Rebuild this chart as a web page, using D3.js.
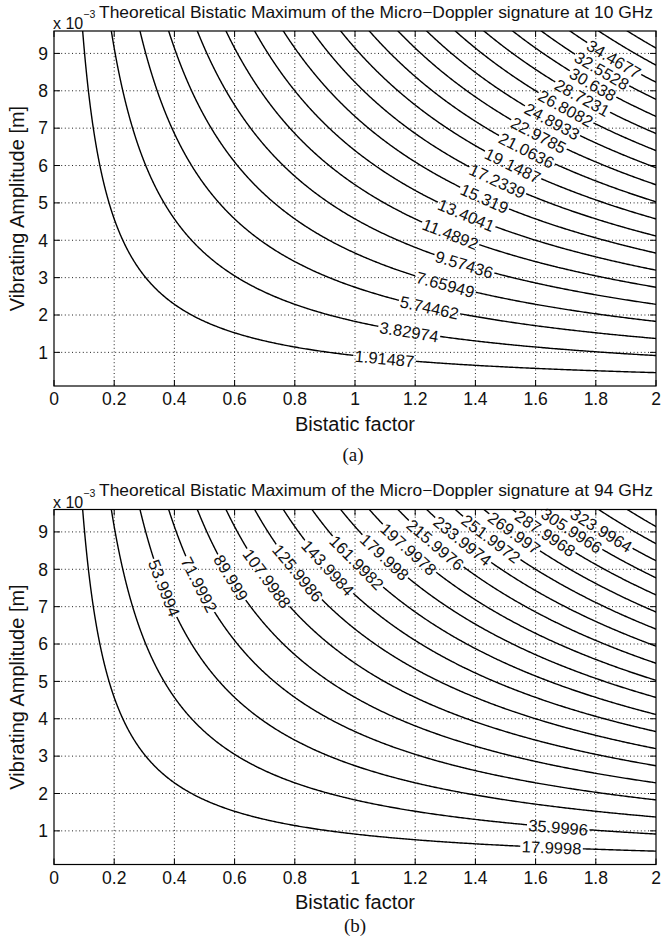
<!DOCTYPE html>
<html>
<head>
<meta charset="utf-8">
<script src="https://cdn.jsdelivr.net/npm/d3@7"></script>
<style>
  body { margin: 0; background: #fff; }
  svg text { font-family: "Liberation Sans", Arial, Helvetica, sans-serif; fill: #111; }
</style>
</head>
<body>
<svg id="chart" width="664" height="943"></svg>
<script>

// contour levels printed on the two panels (20 levels each, last two unlabelled)
var levels10 = [1.91487, 3.82974, 5.74462, 7.65949, 9.57436, 11.4892, 13.4041, 15.319,
  17.2339, 19.1487, 21.0636, 22.9785, 24.8933, 26.8082, 28.7231, 30.638, 32.5528,
  34.4677, 36.3825, 38.2974];
var levels94 = [17.9998, 35.9996, 53.9994, 71.9992, 89.999, 107.9988, 125.9986, 143.9984,
  161.9982, 179.998, 197.9978, 215.9976, 233.9974, 251.9972, 269.997, 287.9968, 305.9966,
  323.9964, 341.9962, 359.996];

// bistatic factor at which each level carries its label
var labelAt10 = [1.098, 1.18, 1.247, 1.30, 1.363, 1.317, 1.37, 1.43, 1.473, 1.524, 1.57,
  1.61, 1.655, 1.70, 1.755, 1.79, 1.82, 1.86];
var labelAt94 = [1.653, 1.675, 0.366, 0.482, 0.588, 0.7075, 0.81, 0.91, 1.006, 1.098,
  1.178, 1.267, 1.357, 1.452, 1.529, 1.632, 1.72, 1.819];

var xTicks = [0, 0.2, 0.4, 0.6, 0.8, 1, 1.2, 1.4, 1.6, 1.8, 2];
var yTicks = [1, 2, 3, 4, 5, 6, 7, 8, 9];   // x 10^-3 m

// surface maximum reached at bistatic factor 2, amplitude 9.6 mm
var peak10 = 40.2123, peak94 = 377.9958;
var betaMax = 2, ampMax = 9.6e-3, ampMin = 0.1e-3;

var svg = d3.select("#chart");
var left = 54, right = 656;

var x = d3.scaleLinear().domain([0, betaMax]).range([left, right]);

function panel(top, bottom, levels, labelAt, peak, ghz, id) {
  var y = d3.scaleLinear().domain([ampMin, ampMax]).range([bottom, top]);
  var K = peak / (betaMax * ampMax);
  var g = svg.append("g");

  // grid
  g.append("g").selectAll("line").data(xTicks.slice(1, -1)).enter().append("line")
    .attr("x1", function(d) { return x(d); }).attr("x2", function(d) { return x(d); })
    .attr("y1", top).attr("y2", bottom)
    .attr("stroke", "#222").attr("stroke-width", 1).attr("stroke-dasharray", "1,2.6");
  g.append("g").selectAll("line").data(yTicks).enter().append("line")
    .attr("x1", left).attr("x2", right)
    .attr("y1", function(d) { return y(d * 1e-3); }).attr("y2", function(d) { return y(d * 1e-3); })
    .attr("stroke", "#222").attr("stroke-width", 1).attr("stroke-dasharray", "1,2.6");

  // surface on a grid a bit larger than the axes, so ring edges fall outside
  var b0 = -0.05, bStep = 0.005, nb = 431;
  var a0 = 0, aStep = 0.025e-3, na = 405;
  var values = new Array(nb * na);
  for (var j = 0; j < na; j++)
    for (var i = 0; i < nb; i++)
      values[j * nb + i] = K * (b0 + i * bStep) * (a0 + j * aStep);

  var contours = d3.contours().size([nb, na]).thresholds(levels)(values);
  var proj = d3.geoTransform({
    point: function(u, v) {
      this.stream.point(x(b0 + (u - 0.5) * bStep), y(a0 + (v - 0.5) * aStep));
    }
  });
  var path = d3.geoPath(proj);

  // label positions & angles
  var labels = labelAt.map(function(b, k) {
    var c = levels[k] / K, h = 0.01;
    var px = x(b), py = y(c / b);
    var ang = Math.atan2(y(c / (b + h)) - y(c / (b - h)), x(b + h) - x(b - h)) * 180 / Math.PI;
    return { text: String(levels[k]), px: px, py: py, ang: ang };
  });

  var mask = svg.append("defs").append("mask").attr("id", id)
    .attr("maskUnits", "userSpaceOnUse").attr("x", 0).attr("y", 0)
    .attr("width", 664).attr("height", 943);
  mask.append("rect").attr("x", left).attr("y", top)
    .attr("width", right - left).attr("height", bottom - top).attr("fill", "#fff");

  g.append("g").attr("mask", "url(#" + id + ")")
    .selectAll("path").data(contours).enter().append("path")
    .attr("d", path).attr("fill", "none")
    .attr("stroke", "#000").attr("stroke-width", 1.4);

  var lab = g.append("g").selectAll("text").data(labels).enter().append("text")
    .attr("transform", function(d) { return "translate(" + d.px + "," + d.py + ") rotate(" + d.ang + ")"; })
    .attr("text-anchor", "middle").attr("dy", "0.36em")
    .style("font-size", "16.5px")
    .text(function(d) { return d.text; });
  lab.each(function(d) {
    var w = this.getComputedTextLength() + 3;
    mask.append("rect").attr("x", -w / 2).attr("y", -6.5).attr("width", w).attr("height", 13)
      .attr("transform", "translate(" + d.px + "," + d.py + ") rotate(" + d.ang + ")")
      .attr("fill", "#000");
  });

  // box and inward ticks on all sides
  g.append("rect").attr("x", left).attr("y", top).attr("width", right - left)
    .attr("height", bottom - top).attr("fill", "none").attr("stroke", "#000").attr("stroke-width", 1.2);
  var tl = 6;
  xTicks.forEach(function(d) {
    g.append("line").attr("x1", x(d)).attr("x2", x(d)).attr("y1", bottom).attr("y2", bottom - tl).attr("stroke", "#000");
    g.append("line").attr("x1", x(d)).attr("x2", x(d)).attr("y1", top).attr("y2", top + tl).attr("stroke", "#000");
    g.append("text").attr("x", x(d)).attr("y", bottom + 19).attr("text-anchor", "middle")
      .style("font-size", "17.5px").text(String(d));
  });
  yTicks.forEach(function(d) {
    var yy = y(d * 1e-3);
    g.append("line").attr("x1", left).attr("x2", left + tl).attr("y1", yy).attr("y2", yy).attr("stroke", "#000");
    g.append("line").attr("x1", right).attr("x2", right - tl).attr("y1", yy).attr("y2", yy).attr("stroke", "#000");
    g.append("text").attr("x", left - 6).attr("y", yy).attr("dy", "0.36em").attr("text-anchor", "end")
      .style("font-size", "17.5px").text(String(d));
  });

  // exponent and title
  var ex = g.append("text").attr("x", 53).attr("y", top - 2).style("font-size", "16px");
  ex.append("tspan").text("x 10");
  ex.append("tspan").attr("dy", -11).style("font-size", "10.5px").text("\u22123");
  g.append("text").attr("x", 99).attr("y", top - 13.5)
    .attr("textLength", 554).attr("lengthAdjust", "spacingAndGlyphs")
    .style("font-size", "16.5px")
    .text("Theoretical Bistatic Maximum of the Micro\u2212Doppler signature at " + ghz + " GHz");

  // axis labels
  g.append("text").attr("x", (left + right) / 2).attr("y", bottom + 44.5)
    .attr("text-anchor", "middle").style("font-size", "20px").text("Bistatic factor");
  g.append("text").attr("transform", "translate(24," + ((top + bottom) / 2) + ") rotate(-90)")
    .attr("text-anchor", "middle").style("font-size", "20px").text("Vibrating Amplitude [m]");
}

panel(31, 386, levels10, labelAt10, peak10, 10, "mA");
panel(509.5, 864.5, levels94, labelAt94, peak94, 94, "mB");

svg.append("text").attr("x", 353).attr("y", 461).attr("text-anchor", "middle")
  .style("font-family", "'Liberation Serif', 'Times New Roman', serif").style("font-size", "19px").text("(a)");
svg.append("text").attr("x", 355).attr("y", 932).attr("text-anchor", "middle")
  .style("font-family", "'Liberation Serif', 'Times New Roman', serif").style("font-size", "19px").text("(b)");
</script>
</body>
</html>
